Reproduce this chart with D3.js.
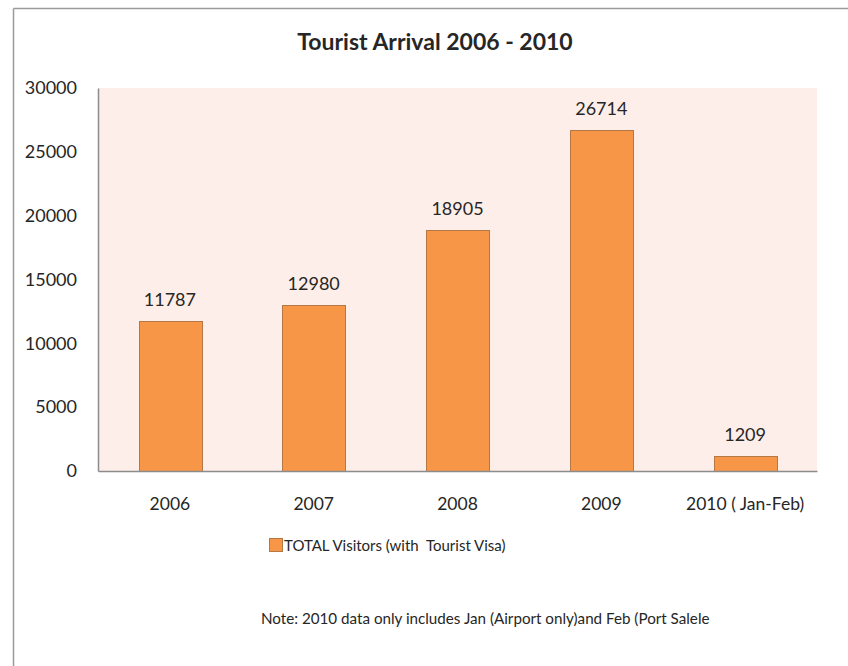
<!DOCTYPE html>
<html>
<head>
<meta charset="utf-8">
<script src="https://cdn.jsdelivr.net/npm/d3@7"></script>
<style>
  html, body { margin: 0; padding: 0; background: #ffffff; }
  svg { display: block; }
  text { font-family: Lato, "Open Sans", sans-serif; fill: #262626; white-space: pre; }
</style>
</head>
<body>
<svg id="chart" width="848" height="666"></svg>
<script>
// Tourist arrivals by year
const categories = ["2006", "2007", "2008", "2009", "2010 ( Jan-Feb)"];
const visitors = [11787, 12980, 18905, 26714, 1209];
const yTicks = [0, 5000, 10000, 15000, 20000, 25000, 30000];
const seriesName = "TOTAL Visitors (with  Tourist Visa)";
const titleText = "Tourist Arrival 2006 - 2010";
const noteText = "Note: 2010 data only includes Jan (Airport only)and Feb (Port Salele";

const svg = d3.select("#chart");
const W = 848, H = 666;
const plot = { left: 98, right: 817, top: 88, bottom: 471 };

const barFill = "#F79646";
const barStroke = "#B47845";
const plotBg = "#FDEEE9";
const axisColor = "#8C8C8C";

// outer chart frame (top and left edges visible)
svg.append("line").attr("x1", 13.5).attr("x2", W).attr("y1", 8.5).attr("y2", 8.5)
  .attr("stroke", "#9a9a9a").attr("stroke-width", 1.5);
svg.append("line").attr("x1", 13.5).attr("x2", 13.5).attr("y1", 8.5).attr("y2", H)
  .attr("stroke", "#9a9a9a").attr("stroke-width", 1.5);

const x = d3.scaleBand()
  .domain(categories)
  .range([plot.left, plot.right])
  .paddingInner(0.565)
  .paddingOuter(0.2825);

const y = d3.scaleLinear()
  .domain([0, 30000])
  .range([plot.bottom, plot.top]);

// plot area background
svg.append("rect")
  .attr("x", plot.left).attr("y", plot.top)
  .attr("width", plot.right - plot.left).attr("height", plot.bottom - plot.top)
  .attr("fill", plotBg);

// title
svg.append("text")
  .attr("x", 435).attr("y", 50)
  .attr("text-anchor", "middle")
  .attr("font-size", 23).attr("font-weight", "bold")
  .text(titleText);

// bars
svg.append("g").selectAll("rect")
  .data(visitors)
  .join("rect")
  .attr("x", (d, i) => Math.round(x(categories[i])) + 0.5)
  .attr("y", d => Math.round(y(d)) + 0.5)
  .attr("width", Math.round(x.bandwidth()))
  .attr("height", d => Math.round(y(0)) - Math.round(y(d)))
  .attr("fill", barFill)
  .attr("stroke", barStroke)
  .attr("stroke-width", 1);

// value labels
svg.append("g").selectAll("text")
  .data(visitors)
  .join("text")
  .attr("x", (d, i) => x(categories[i]) + x.bandwidth() / 2)
  .attr("y", d => y(d) - 15)
  .attr("text-anchor", "middle")
  .attr("font-size", 18)
  .text(d => d);

// y axis
const yAxis = d3.axisLeft(y).tickValues(yTicks).tickSize(0).tickPadding(21)
  .tickFormat(d3.format("d"));
const gy = svg.append("g").attr("transform", `translate(${plot.left},0)`).call(yAxis);
gy.select(".domain").attr("stroke", axisColor).attr("stroke-width", 1.5);
gy.selectAll("text").attr("font-size", 18).attr("font-family", null).attr("fill", "#262626");

// x axis
const xAxis = d3.axisBottom(x).tickSize(0).tickPadding(27);
const gx = svg.append("g").attr("transform", `translate(0,${plot.bottom})`).call(xAxis);
gx.select(".domain").attr("stroke", axisColor).attr("stroke-width", 1.5);
gx.selectAll("text").attr("font-size", 17.5).attr("font-family", null).attr("fill", "#262626");

// legend
const legend = svg.append("g").attr("transform", "translate(269,538)");
legend.append("rect").attr("x", 0.5).attr("y", 0.5).attr("width", 13).attr("height", 13)
  .attr("fill", barFill).attr("stroke", barStroke);
legend.append("text").attr("x", 15).attr("y", 12.5)
  .attr("font-size", 15).text(seriesName);

// note
svg.append("text")
  .attr("x", 261).attr("y", 624)
  .attr("font-size", 15.2)
  .text(noteText);
</script>
</body>
</html>
